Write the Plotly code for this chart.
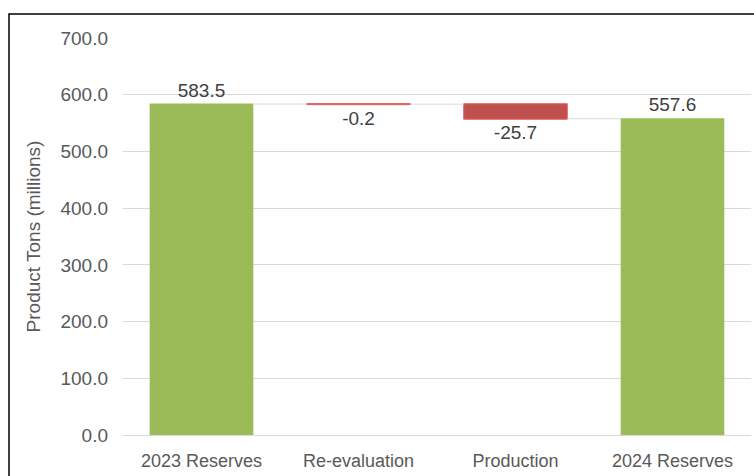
import plotly.graph_objects as go

# Reserves bridge, millions of product tons
categories = ["2023 Reserves", "Re-evaluation", "Production", "2024 Reserves"]
opening = 583.5
changes = [-0.2, -25.7]
closing = round(opening + sum(changes), 1)

measures = ["absolute", "relative", "relative", "total"]
values = [opening] + changes + [0]
labels = [f"{v:.1f}" for v in [opening] + changes + [closing]]

green = "#9BBB59"
red = "#C0504D"

fig = go.Figure(
    go.Waterfall(
        x=categories,
        y=values,
        measure=measures,
        text=labels,
        textposition="outside",
        textfont=dict(family="Liberation Sans", size=19, color="#404040"),
        totals=dict(marker=dict(color=green, line=dict(width=0))),
        decreasing=dict(marker=dict(color=red, line=dict(color="#E06666", width=1))),
        increasing=dict(marker=dict(color=green)),
        connector=dict(line=dict(color="#D9D9D9", width=1)),
        width=0.66,
        cliponaxis=False,
        hoverinfo="skip",
    )
)

fig.update_layout(
    width=754,
    height=476,
    margin=dict(l=123, r=3, t=38, b=41),
    paper_bgcolor="white",
    plot_bgcolor="white",
    showlegend=False,
    font=dict(family="Liberation Sans", color="#595959"),
    xaxis=dict(
        showgrid=False,
        showline=False,
        tickfont=dict(size=18, color="#595959"),
        ticks="",
        ticklabelstandoff=13,
    ),
    yaxis=dict(
        range=[0, 700],
        dtick=100,
        tickformat=".1f",
        showgrid=True,
        gridcolor="#D9D9D9",
        gridwidth=1,
        zeroline=True,
        zerolinecolor="#D9D9D9",
        zerolinewidth=1,
        tickfont=dict(size=19, color="#595959"),
        ticklabelstandoff=14,
        title=dict(
            text="Product Tons (millions)",
            font=dict(size=19, color="#595959"),
            standoff=14,
        ),
    ),
    shapes=[
        dict(
            type="rect",
            xref="paper",
            yref="paper",
            x0=-123 / 628 + 9 / 628,
            x1=1.02,
            y0=-0.2,
            y1=1 + 24 / 397,
            line=dict(color="#000000", width=1.5),
            fillcolor="rgba(0,0,0,0)",
            layer="above",
        )
    ],
)

fig.write_html("out.html")
